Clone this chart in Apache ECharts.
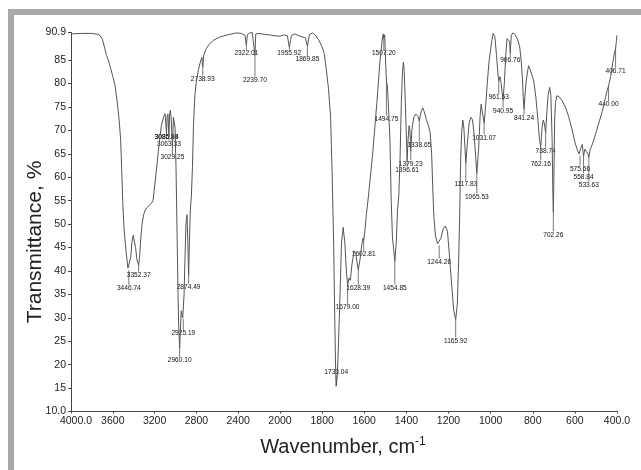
<!DOCTYPE html>
<html>
<head>
<meta charset="utf-8">
<script src="https://cdn.jsdelivr.net/npm/echarts@6.0.0/dist/echarts.min.js"></script>
<style>
html,body{margin:0;padding:0;background:#fff;}
#chart{width:641px;height:470px;}
</style>
</head>
<body>
<div id="chart"></div>
<script>
// Spectrum (wavenumber cm-1, transmittance %)
const wavenumbers = [
4000,3900,3800,3740,3720,3700,3680,3660,3640,3620,3600,3580,3560,3545,3535,3525,3515,3505,3495,3485,3470,3455,3446.74,3438,3428,3418,3405,3395,3382,3370,3352.37,3342,3332,3320,3305,3290,3270,3250,3230,3215,3205,3195,3180,3165,3150,3135,3115,3100,3092,3086.04,3080,3072,3063.33,3056,3050,3042,3029.25,3020,3012,3004,2995,2985,2975,2968,2960.10,2952,2945,2938,2931,2925.19,2918,2910,2900,2890,2882,2874.49,2866,2858,2848,2838,2828,2815,2800,2780,2760,2748,2738.93,2730,2710,2680,2640,2580,2500,2420,2370,2335,2322.01,2312,2290,2265,2250,2239.70,2232,2200,2150,2100,2050,2000,
1980,1965,1955.92,1945,1930,1900,1880,1869.85,1860,1845,1830,1815,1800,1790,1780,1770,1760,1752,1745,1740,1736,1733.04,1728,1722,1715,1708,1700,1692,1685,1679.00,1672,1666,1658,1648,1640,1628.39,1620,1612,1606,1602.81,1597,1590,1580,1560,1540,1525,1515,1510,1507.20,1503,1498,1494.75,1490,1485,1478,1472,1466,1460,1454.85,1448,1442,1436,1430,1424,1418,1414,1410,1405,1400,1396.61,1392,1387,1383,1379.23,1374,1365,1355,1345,1338.65,1330,1322,1315,1305,1295,1287,1280,1275,1270,1262,1252,1244.26,1236,1225,1215,1205,1195,1185,1175,1165.92,1158,1152,1147,1142,1137,1132,1127,1117.83,1110,1102,1094,1086,1078,1065.53,1057,1050,1045,1040,1031.07,1024,1016,1008,995,988,980,972,966,961.53,956,950,940.95,935,928,922,916,910,906.76,902,895,885,872,862,855,849,845,841.24,836,830,820,812,805,795,785,775,768,762.16,756,750,745,738.74,733,727,720,714,708,705,702.26,699,696,692,685,675,660,645,630,615,600,588,580,575.66,570,565,558.84,553,545,538,533.63,528,515,500,485,470,455,445,440.00,430,420,412,406.71,403,400
];
const transmittance = [
90.6,90.7,90.7,90.5,90.2,89.5,87.8,86.0,84.8,83.2,81.5,79.8,76.5,73.5,71.0,68.0,62.0,55.0,50.0,47.0,43.5,40.6,40.2,40.6,43.0,46.0,47.6,47.3,45.0,42.5,41.2,43.5,47.0,50.0,52.0,53.0,53.6,54.0,54.5,55.0,57.0,59.0,62.0,65.5,68.5,71.0,72.8,73.6,73.5,69.5,73.0,73.5,68.5,73.5,74.3,73.0,66.5,72.8,73.0,70.5,62.0,48.0,34.0,27.0,23.5,28.0,31.5,30.5,30.0,29.8,35.0,42.0,50.0,52.0,46.0,39.0,47.0,53.0,56.0,62.0,71.0,77.5,80.5,83.0,84.8,85.6,83.5,86.0,87.3,88.3,89.2,89.9,90.4,90.8,90.7,90.3,88.2,90.5,90.8,90.9,90.6,86.0,90.6,90.7,90.5,90.4,90.2,90.1,
90.4,90.2,87.8,90.3,90.6,90.0,89.8,88.0,90.5,90.8,90.2,89.2,87.8,86.4,83.0,79.0,73.0,60.0,45.0,30.0,19.5,15.4,17.5,25.0,35.0,46.0,49.3,46.0,40.0,37.0,38.5,38.0,41.5,44.3,43.5,40.2,42.5,45.5,47.0,46.5,48.5,52.0,56.0,65.0,76.0,85.0,89.3,90.6,89.6,90.4,84.0,80.5,79.5,75.0,68.0,55.0,47.0,44.5,42.0,46.0,53.0,56.0,64.0,76.0,83.0,84.6,82.5,76.0,69.0,63.5,68.0,71.0,70.0,65.5,70.0,72.8,73.5,73.0,72.0,74.0,74.8,74.0,72.3,71.0,69.5,65.0,58.0,52.0,47.5,45.8,45.5,47.0,49.0,49.6,48.5,43.0,37.0,31.5,29.6,33.0,42.0,52.0,64.0,70.0,72.2,70.5,63.0,67.5,71.5,72.8,72.3,69.0,60.8,66.0,73.0,75.6,75.2,71.5,75.0,80.0,84.5,89.0,90.7,90.0,86.0,82.5,80.5,81.5,80.0,76.5,80.0,86.0,89.6,90.0,89.0,86.5,90.3,90.8,90.5,89.5,87.8,85.0,81.0,77.0,74.5,78.0,81.0,83.8,83.0,82.0,80.5,77.0,72.0,68.0,66.5,70.5,72.2,71.5,69.5,74.0,77.5,79.2,77.5,68.0,58.0,52.5,62.0,72.0,76.0,77.4,77.2,76.3,75.0,73.0,70.5,67.5,65.8,65.0,64.6,66.5,67.0,64.5,66.0,66.2,65.0,64.3,65.8,67.3,69.5,71.8,74.0,77.0,78.8,79.5,81.5,84.5,86.5,87.5,89.0,90.3
];
// Peak annotations
const peakWavenumbers = [3446.74,3352.37,3086.04,3085.88,3063.33,3029.25,2960.10,2925.19,2874.49,2738.93,2322.01,2239.70,1955.92,1869.85,1733.04,1679.00,1628.39,1602.81,1507.20,1494.75,1454.85,1396.61,1379.23,1338.65,1244.26,1165.92,1117.83,1065.53,1031.07,961.53,940.95,906.76,841.24,762.16,738.74,702.26,575.66,558.84,533.63,440.00,406.71];
const peakLabels = ["3446.74","3352.37","3086.04","3085.88","3063.33","3029.25","2960.10","2925.19","2874.49","2738.93","2322.01","2239.70","1955.92","1869.85","1733.04","1679.00","1628.39","1602.81","1507.20","1494.75","1454.85","1396.61","1379.23","1338.65","1244.26","1165.92","1117.83","1065.53","1031.07","961.53","940.95","906.76","841.24","762.16","738.74","702.26","575.66","558.84","533.63","440.00","406.71"];
const peakLabelT = [36.3,39.1,68.5,68.5,67.1,64.2,20.9,26.7,36.5,81.0,86.4,80.7,86.5,85.1,18.4,32.2,36.3,43.6,86.4,72.4,36.3,61.5,62.9,66.9,41.9,25.1,58.5,55.8,68.4,77.0,74.1,84.9,72.6,62.9,65.6,47.7,61.7,60.1,58.3,75.5,82.6];
// Axis tick labels
const yTicks = [10,15,20,25,30,35,40,45,50,55,60,65,70,75,80,85,90.9];
const xTicksHigh = [4000,3600,3200,2800,2400];
const xTicksLow = [2000,1800,1600,1400,1200,1000,800,600,400];

function curveAt(w){
  for(let i=0;i<wavenumbers.length-1;i++){
    const a=wavenumbers[i], b=wavenumbers[i+1];
    if(w<=a && w>=b){
      const t=(a===b)?0:(a-w)/(a-b);
      return transmittance[i]+(transmittance[i+1]-transmittance[i])*t;
    }
  }
  return transmittance[transmittance.length-1];
}

const highData=[], lowData=[];
wavenumbers.forEach((w,i)=>{
  if(w>=2000) highData.push([w,transmittance[i]]);
  if(w<=2000) lowData.push([w,transmittance[i]]);
});
const peaksHigh=[], peaksLow=[], labHigh=[], labLow=[];
peakWavenumbers.forEach((w,i)=>{
  const row=[w,curveAt(w),peakLabelT[i]];
  if(w>2000){peaksHigh.push(row);labHigh.push(peakLabels[i]);}
  else {peaksLow.push(row);labLow.push(peakLabels[i]);}
});

const tickFont = '"Liberation Sans Narrow","Liberation Sans",Arial,sans-serif';
function peakRenderer(labels){
  return function(params, api){
    const w=api.value(0), tc=api.value(1), tl=api.value(2);
    const p1=api.coord([w,tc]), p2=api.coord([w,tl]);
    const below=p2[1]>p1[1];
    const yEnd=below? p2[1]-3.5 : p2[1]+3.5;
    return {type:'group', children:[
      {type:'line', shape:{x1:p1[0],y1:p1[1],x2:p1[0],y2:yEnd}, style:{stroke:'#555',lineWidth:0.8}},
      {type:'text', x:p2[0], y:p2[1], style:{text:labels[params.dataIndex], fill:'#111', font:'6.6px '+tickFont, align:'center', verticalAlign:'middle'}}
    ]};
  };
}

const axisLineStyle={color:'#444',width:1};
const gridTop=32.5, gridH=379;
const chart=echarts.init(document.getElementById('chart'),null,{renderer:'canvas'});
chart.setOption({
  animation:false,
  backgroundColor:'#fff',
  grid:[
    {left:71,top:gridTop,width:209,height:gridH},
    {left:280,top:gridTop,width:337,height:gridH}
  ],
  xAxis:[
    {type:'value',gridIndex:0,min:2000,max:4000,inverse:true,
     axisLine:{show:true,lineStyle:axisLineStyle},
     axisTick:{show:true,inside:false,length:2,customValues:xTicksHigh,lineStyle:axisLineStyle},
     axisLabel:{customValues:xTicksHigh,margin:4,color:'#222',fontSize:10.5,fontFamily:tickFont,
       formatter:v=> v===4000?'{a|4000.0}':String(v), rich:{a:{padding:[0,0,0,10],fontSize:10.5,fontFamily:tickFont,color:'#222'}}},
     splitLine:{show:false}},
    {type:'value',gridIndex:1,min:400,max:2000,inverse:true,
     axisLine:{show:true,lineStyle:axisLineStyle},
     axisTick:{show:true,inside:false,length:2,customValues:xTicksLow,lineStyle:axisLineStyle},
     axisLabel:{customValues:xTicksLow,margin:4,color:'#222',fontSize:10.5,fontFamily:tickFont,
       formatter:v=> v===400?'400.0':String(v)},
     splitLine:{show:false}}
  ],
  yAxis:[
    {type:'value',gridIndex:0,min:10,max:90.9,
     axisLine:{show:true,lineStyle:axisLineStyle},
     axisTick:{show:true,inside:false,length:3,customValues:yTicks,lineStyle:axisLineStyle},
     axisLabel:{customValues:yTicks,margin:5,color:'#222',fontSize:10.5,fontFamily:tickFont,
       formatter:v=> v===10?'10.0':(v===90.9?'90.9':String(v))},
     splitLine:{show:false}},
    {type:'value',gridIndex:1,min:10,max:90.9,show:false,splitLine:{show:false}}
  ],
  series:[
    {type:'line',xAxisIndex:0,yAxisIndex:0,data:highData,showSymbol:false,symbol:'none',
     lineStyle:{color:'#555',width:1},silent:true},
    {type:'line',xAxisIndex:1,yAxisIndex:1,data:lowData,showSymbol:false,symbol:'none',
     lineStyle:{color:'#555',width:1},silent:true},
    {type:'custom',xAxisIndex:0,yAxisIndex:0,data:peaksHigh,encode:{x:0,y:[1,2]},renderItem:peakRenderer(labHigh),silent:true,clip:false},
    {type:'custom',xAxisIndex:1,yAxisIndex:1,data:peaksLow,encode:{x:0,y:[1,2]},renderItem:peakRenderer(labLow),silent:true,clip:false}
  ],
  graphic:[
    {type:'rect',shape:{x:8,y:9,width:633,height:6},style:{fill:'#a9a9a9'},silent:true},
    {type:'rect',shape:{x:8,y:9,width:6,height:461},style:{fill:'#a9a9a9'},silent:true},
    {type:'text',x:35,y:242,rotation:Math.PI/2,
     style:{text:'Transmittance, %',font:'21px "Liberation Sans",Arial,sans-serif',fill:'#222',align:'center',verticalAlign:'middle'},silent:true},
    {type:'text',x:343,y:447,
     style:{text:'{m|Wavenumber, cm}{s|-1}',align:'center',verticalAlign:'middle',
       rich:{m:{fontSize:20,fontFamily:'"Liberation Sans",Arial,sans-serif',fill:'#222',color:'#222'},
             s:{fontSize:12,fontFamily:'"Liberation Sans",Arial,sans-serif',fill:'#222',color:'#222',verticalAlign:'top',padding:[0,0,10,0]}}},silent:true}
  ]
});
</script>
</body>
</html>
